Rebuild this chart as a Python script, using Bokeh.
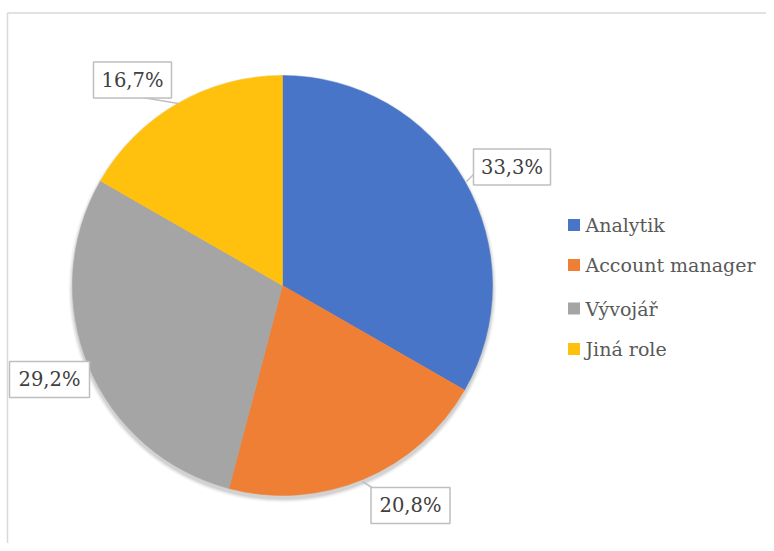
import numpy as np
from bokeh.plotting import figure
from bokeh.models import Range1d, ColumnDataSource
from bokeh.core.properties import value
from bokeh.embed import file_html
from bokeh.resources import INLINE

# ---- data ----
categories = ["Analytik", "Account manager", "Vývojář", "Jiná role"]
shares = [33.3, 20.8, 29.2, 16.7]
colors = ["#4875C8", "#EF7F35", "#A5A5A5", "#FFC10E"]

# ---- layout (image pixel coordinates) ----
W, H = 766, 543
def Y(yi):
    return H - yi

cx, cy, R = 282, 285, 210
FONT = value("DejaVu Serif")

p = figure(width=W, height=H, x_range=Range1d(0, W), y_range=Range1d(0, H),
           output_backend="svg", toolbar_location=None, min_border=0,
           background_fill_color="white", border_fill_color="white")
p.axis.visible = False
p.grid.visible = False
p.outline_line_color = None

# chart frame
p.segment(x0=[7, 7], y0=[Y(12.5), Y(12.5)], x1=[7, 800], y1=[Y(600), Y(12.5)],
          line_color="#d9d9d9", line_width=1.5)

# soft shadow under pie
for dr, a in [(4, 0.03), (3, 0.04), (2, 0.05), (1, 0.06)]:
    p.circle(x=cx, y=Y(cy + 3), radius=R + dr, fill_color="black", fill_alpha=a,
             line_color=None)

# pie
sh = np.array(shares, dtype=float)
frac = sh / sh.sum()
cum = np.concatenate([[0], np.cumsum(frac)])
start = np.pi / 2 - cum[:-1] * 2 * np.pi
end = np.pi / 2 - cum[1:] * 2 * np.pi
src = ColumnDataSource(dict(start=start, end=end, color=colors, cat=categories))
p.wedge(x=cx, y=Y(cy), radius=R, start_angle="start", end_angle="end",
        direction="clock", fill_color="color", line_color="color", line_width=0.5,
        source=src)

# data labels (callout boxes)
lab_text = [f"{v:.1f}%".replace(".", ",") for v in shares]
box_x = [511.5, 410, 49, 132]
box_y = [166.5, 505, 379, 79.5]
box_w = [77, 79, 80, 78]
box_h = [36, 36, 36, 36]
# leader pointers
p.segment(x0=[474, 373, 142], y0=[Y(173), Y(488), Y(97)],
          x1=[466, 362, 178], y1=[Y(181), Y(481), Y(103)],
          line_color="#bfbfbf", line_width=1.5)
p.rect(x=box_x, y=[Y(v) for v in box_y], width=box_w, height=box_h,
       fill_color="white", line_color="#bfbfbf", line_width=1.5)
p.text(x=box_x, y=[Y(v) for v in box_y], text=lab_text,
       text_font=FONT, text_font_size="19.5px",
       text_align="center", text_baseline="middle", text_color="#404040")

# legend
leg_y = [224.5, 264.5, 308, 348.5]
p.scatter(x=[573.5] * 4, y=[Y(v) for v in leg_y], marker="square", size=12,
          fill_color=colors, line_color=None)
p.text(x=[585] * 4, y=[Y(v) for v in leg_y], text=categories,
       text_font=FONT, text_font_size="19px",
       text_align="left", text_baseline="middle", text_color="#595959")

open("out.html", "w").write(file_html(p, INLINE))
